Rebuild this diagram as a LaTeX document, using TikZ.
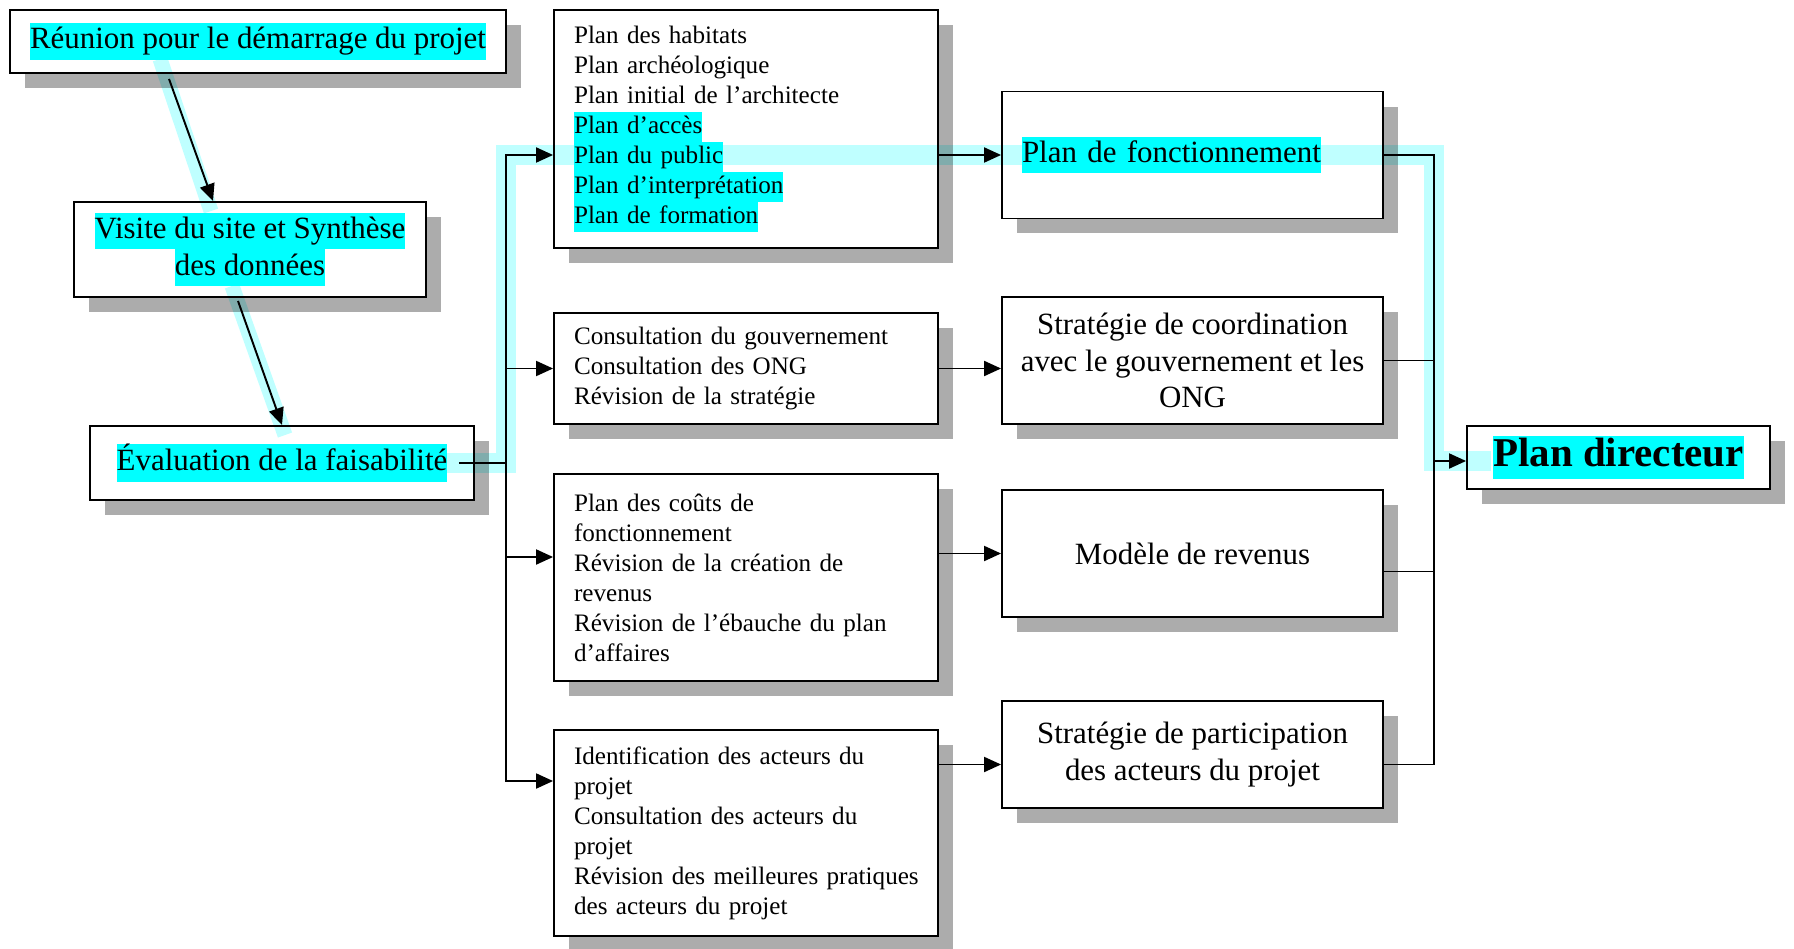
\documentclass[tikz,border=0pt]{standalone}
\usepackage{fontspec}
\setmainfont{Liberation Serif}
\usepackage{tikz}
\usetikzlibrary{arrows.meta, shadows, calc}

\definecolor{hlcyan}{RGB}{0,255,255}
\definecolor{shadowgray}{RGB}{172,172,172}

\newcommand{\hl}[1]{{\setlength{\fboxsep}{0pt}\colorbox{hlcyan}{\strut #1}}}
\newcommand{\bigtxt}{\fontsize{17.6}{20.8}\selectfont}
\newcommand{\smalltxt}{\fontsize{14.3}{17.1}\selectfont}
\newcommand{\titletxt}{\fontsize{23.3}{25}\selectfont\bfseries}

\begin{document}
\begin{tikzpicture}[x=0.02cm, y=-0.02cm,
  box/.style={
    draw, line width=1.1pt, fill=white, inner sep=0pt,
    general shadow={fill=shadowgray, shadow xshift=0.3cm, shadow yshift=-0.3cm}
  },
  phase/.style={box, font=\bigtxt, align=center},
  tasks/.style={box, font=\smalltxt, align=left, text width=6.88cm,
    inner xsep=0.4cm, minimum width=7.68cm},
  line/.style={line width=1.1pt},
  arrow/.style={line, -{Triangle[length=0.34cm, width=0.3cm]}},
  glow/.style={draw=hlcyan, blend mode=multiply, opacity=0.25, line width=0.4cm}
]
  \useasboundingbox (0,0) rectangle (1794,949);

  \node[phase, minimum width=9.92cm, minimum height=1.26cm] (kickoff) at (258,41.5)
    {\hl{Réunion pour le démarrage du projet}};
  \node[phase, minimum width=7.04cm, minimum height=1.9cm] (visit) at (250,249.5)
    {\hl{Visite du site et Synthèse}\\\hl{des données}};
  \node[phase, minimum width=7.68cm, minimum height=1.48cm] (feasib) at (282,463)
    {\hl{Évaluation de la faisabilité}};

  \node[tasks, minimum height=4.76cm] (plans) at (746,129)
    {Plan des habitats\\Plan archéologique\\Plan initial de l’architecte\\\hl{Plan d’accès}\\\hl{Plan du public}\\\hl{Plan d’interprétation}\\\hl{Plan de formation}};
  \node[tasks, minimum height=2.22cm] (consult) at (746,368.5)
    {Consultation du gouvernement\\Consultation des ONG\\Révision de la stratégie};
  \node[tasks, minimum height=4.14cm] (costs) at (746,577.5)
    {Plan des coûts de\\fonctionnement\\Révision de la création de\\revenus\\Révision de l’ébauche du plan\\d’affaires};
  \node[tasks, minimum height=4.12cm] (actors) at (746,833)
    {Identification des acteurs du\\projet\\Consultation des acteurs du\\projet\\\mbox{Révision des meilleures pratiques}\\des acteurs du projet};

  \node[box, font=\bigtxt, align=left, text width=6.82cm, inner xsep=0.4cm,
        minimum height=2.54cm] (fonct) at (1192.5,155)
    {\hl{Plan de fonctionnement}};
  \node[phase, minimum width=7.62cm, minimum height=2.54cm] (coord) at (1192.5,360.5)
    {Stratégie de coordination\\avec le gouvernement et les\\ONG};
  \node[phase, minimum width=7.62cm, minimum height=2.54cm] (revenue) at (1192.5,553.5)
    {Modèle de revenus};
  \node[phase, minimum width=7.62cm, minimum height=2.14cm] (particip) at (1192.5,754.5)
    {Stratégie de participation\\des acteurs du projet};

  \node[box, font=\titletxt, minimum width=6.06cm, minimum height=1.26cm] (master) at (1618.5,457.5)
    {\hl{Plan directeur}};

  \coordinate (lsplit) at (506,463);
  \coordinate (rsplit) at (1434,461);
  \coordinate (pin) at ([yshift=-0.52cm]plans.west);
  \coordinate (pout) at ([yshift=-0.52cm]plans.east);
  \coordinate (ain) at ([yshift=-0.2cm]particip.west);
  \coordinate (rtop) at (fonct.east -| rsplit);

  \draw[arrow] ([xshift=-1.78cm,yshift=-0.1cm]kickoff.south) -- ([xshift=-0.74cm]visit.north);
  \draw[arrow] ([xshift=-0.24cm,yshift=-0.06cm]visit.south) -- (feasib.north);

  \draw[line] ([xshift=-0.32cm]feasib.east) -- (lsplit);
  \draw[arrow] (lsplit) |- (pin);
  \draw[arrow] (lsplit) |- (consult.west);
  \draw[arrow] (lsplit) |- ([yshift=0.41cm]costs.west);
  \draw[arrow] (lsplit) |- ([yshift=1.04cm]actors.west);

  \draw[arrow] (pout) -- (pout -| fonct.west);
  \draw[arrow] (consult.east) -- (consult.east -| coord.west);
  \draw[arrow] (costs.east |- revenue.west) -- (revenue.west);
  \draw[arrow] (ain -| actors.east) -- (ain);

  \draw[line] (fonct.east) -| (rsplit);
  \draw[line] (coord.east) -| (rsplit);
  \draw[line] ([yshift=-0.36cm]revenue.east) -| (rsplit);
  \draw[line] ([yshift=-0.2cm]particip.east) -| (rsplit);
  \draw[arrow] (rsplit) -- (rsplit -| master.west);

  \draw[glow, line width=0.3cm] ([xshift=-1.96cm,yshift=0.3cm]kickoff.south) -- ([xshift=-0.78cm,yshift=-0.2cm]visit.north);
  \draw[glow, line width=0.3cm] ([xshift=-0.36cm,yshift=0.24cm]visit.south) -- ([xshift=0.06cm,yshift=-0.2cm]feasib.north);
  \draw[glow] ([xshift=-0.6cm]feasib.east) -- (lsplit) |- (rtop) -- (rsplit) -- ([xshift=0.5cm]rsplit -| master.west);
\end{tikzpicture}
\end{document}
